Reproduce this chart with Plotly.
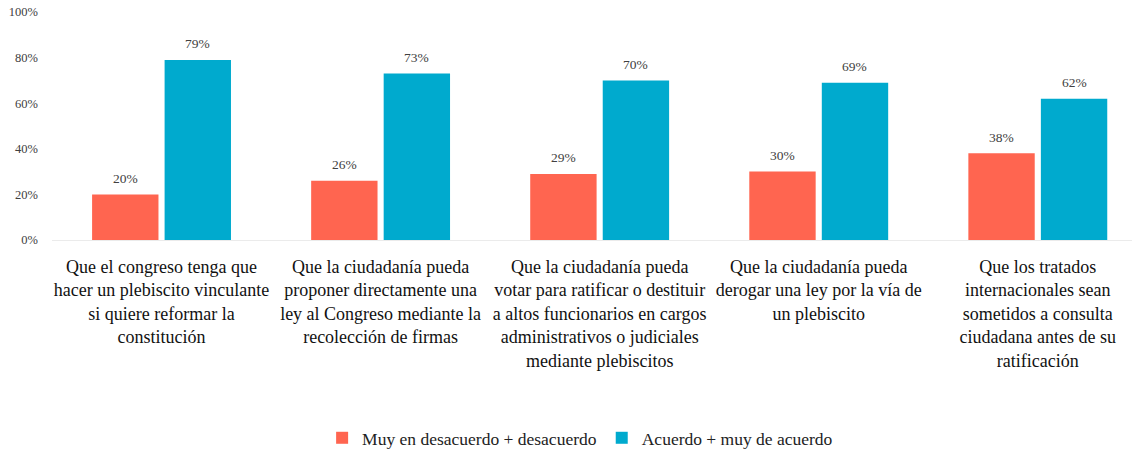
import plotly.graph_objects as go

categories = [
    "Que el congreso tenga que<br>hacer un plebiscito vinculante<br>si quiere reformar la<br>constitución",
    "Que la ciudadanía pueda<br>proponer directamente una<br>ley al Congreso mediante la<br>recolección de firmas",
    "Que la ciudadanía pueda<br>votar para ratificar o destituir<br>a altos funcionarios en cargos<br>administrativos o judiciales<br>mediante plebiscitos",
    "Que la ciudadanía pueda<br>derogar una ley por la vía de<br>un plebiscito",
    "Que los tratados<br>internacionales sean<br>sometidos a consulta<br>ciudadana antes de su<br>ratificación",
]
desacuerdo = [0.20, 0.26, 0.29, 0.30, 0.38]
acuerdo = [0.79, 0.73, 0.70, 0.69, 0.62]
series_names = ["Muy en desacuerdo + desacuerdo", "Acuerdo + muy de acuerdo"]
tick_vals = [0, 0.2, 0.4, 0.6, 0.8, 1.0]
tick_text = ["0%", "20%", "40%", "60%", "80%", "100%"]

RED = "#FF6550"
TEAL = "#00AACE"
FONT = "Liberation Serif"

x_idx = list(range(len(categories)))
bw = 0.303
off_red = -0.317
off_teal = 0.014

fig = go.Figure()
fig.add_trace(go.Bar(x=x_idx, y=desacuerdo, name=series_names[0], marker_color=RED,
                     width=bw, offset=off_red, marker_line_width=0))
fig.add_trace(go.Bar(x=x_idx, y=acuerdo, name=series_names[1], marker_color=TEAL,
                     width=bw, offset=off_teal, marker_line_width=0))

annotations = []
for off, vals in ((off_red, desacuerdo), (off_teal, acuerdo)):
    for i, v in enumerate(vals):
        annotations.append(dict(x=i + off + bw / 2, y=v, text=f"{round(v*100)}%", showarrow=False,
                                yshift=16, font=dict(family=FONT, size=13.5, color="#404040")))

fig.update_layout(
    width=1135, height=452,
    margin=dict(l=52, r=3, t=12, b=212, autoexpand=False),
    paper_bgcolor="white", plot_bgcolor="white",
    font=dict(family=FONT, color="#222222"),
    showlegend=True,
    legend=dict(orientation="h", x=0.489, xanchor="center", y=-0.868, yanchor="middle",
                font=dict(family=FONT, size=17.5, color="#222222"), itemwidth=30,
                tracegroupgap=0),
    annotations=annotations,
)
fig.update_xaxes(
    tickmode="array", tickvals=x_idx, ticktext=categories,
    range=[-0.5, 4.43], showgrid=False, zeroline=False, automargin=False,
    showline=False, ticks="", tickangle=0, ticklabelstandoff=14,
    tickfont=dict(family=FONT, size=18, color="#111111"),
)
fig.update_yaxes(
    range=[0, 1], tickvals=tick_vals, ticktext=tick_text, automargin=False,
    showgrid=False, zeroline=True, zerolinecolor="#EBEBEB", zerolinewidth=1,
    showline=False, ticks="", ticklabelstandoff=13, ticklabeloverflow="allow",
    tickfont=dict(family=FONT, size=12.5, color="#404040"),
)

fig.write_html("out.html", config={"displayModeBar": False},
               post_script="document.body.style.margin='0';document.body.style.overflow='hidden';")
